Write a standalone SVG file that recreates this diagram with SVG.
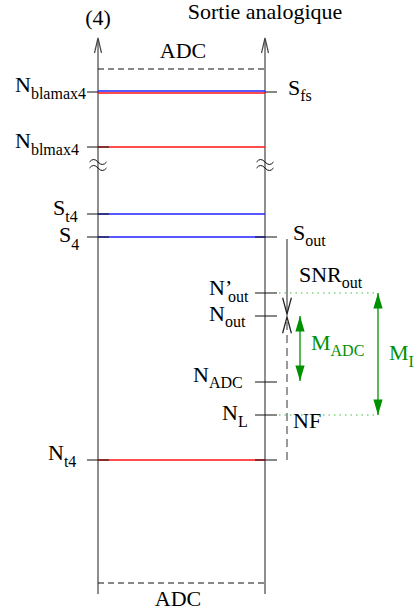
<svg xmlns="http://www.w3.org/2000/svg" width="415" height="614" viewBox="0 0 415 614">
<defs>
<marker id="open" markerUnits="userSpaceOnUse" markerWidth="20" markerHeight="20" refX="0" refY="0" orient="auto" viewBox="-15 -6 16 12" overflow="visible">
<path d="M-13,-3.5 L0,0 L-13,3.5" fill="none" stroke="#222" stroke-width="1"/>
</marker>
<marker id="garrow" markerUnits="userSpaceOnUse" markerWidth="20" markerHeight="20" refX="0" refY="0" orient="auto-start-reverse" viewBox="-12 -5 13 10" overflow="visible">
<path d="M-10,-3 L0,0 L-10,3 Z" fill="#009000" stroke="none"/>
</marker>
</defs>
<style>
text{font-family:"Liberation Serif","Times New Roman",serif;font-size:22px;fill:#000}
.sub{font-size:16px}
.g{fill:#009000}
.axis{stroke:#444;stroke-width:1.2;fill:none}
.tick{stroke:#111;stroke-width:1}
.dash{stroke:#111;stroke-width:1;stroke-dasharray:6,4}
.red{stroke:#ff1010;stroke-width:1.3}
.blue{stroke:#2020ff;stroke-width:1.3}
.dot{stroke:#44bb44;stroke-width:1.2;stroke-dasharray:1.5,4}
.brk{stroke:#111;stroke-width:1;fill:none}
</style>
<rect width="415" height="614" fill="#fff"/>

<g id="axis-left">
<line class="axis" x1="98" y1="39" x2="98" y2="594"/>
<path class="axis" d="M94.5,53 L98,38 L101.5,53"/>
<text x="98" y="25" text-anchor="middle">(4)</text>
</g>
<g id="axis-right">
<line class="axis" x1="265" y1="39" x2="265" y2="594"/>
<path class="axis" d="M261.5,53 L265,38 L268.5,53"/>
<text x="265" y="19" text-anchor="middle">Sortie analogique</text>
</g>
<g id="breaks">
<path class="brk" d="M89.5,162 q4,-5 8.5,0 t8.5,0 M89.5,168 q4,-5 8.5,0 t8.5,0"/>
<path class="brk" d="M256.5,162 q4,-5 8.5,0 t8.5,0 M256.5,168 q4,-5 8.5,0 t8.5,0"/>
</g>
<g id="adc-top">
<line class="dash" x1="98" y1="69" x2="265" y2="69"/>
<text x="183" y="58" text-anchor="middle">ADC</text>
</g>
<g id="adc-bottom">
<line class="dash" x1="98" y1="583" x2="265" y2="583"/>
<text x="178" y="606" text-anchor="middle">ADC</text>
</g>
<g id="n-blamax4">
<line class="blue" x1="98" y1="91" x2="265" y2="91"/>
<line class="red" x1="98" y1="93" x2="265" y2="93"/>
<line class="tick" x1="87" y1="92" x2="98" y2="92"/>
<line class="tick" x1="265" y1="92" x2="277" y2="92"/>
<text x="15" y="92">N<tspan class="sub" dy="7">blamax4</tspan></text>
<text x="288" y="95">S<tspan class="sub" dy="6">fs</tspan></text>
</g>
<g id="n-blmax4">
<line class="red" x1="98" y1="147" x2="265" y2="147"/>
<line class="tick" x1="87" y1="147" x2="109" y2="147"/>
<text x="15" y="148">N<tspan class="sub" dy="7">blmax4</tspan></text>
</g>
<g id="s-t4">
<line class="blue" x1="98" y1="214" x2="265" y2="214"/>
<line class="tick" x1="87" y1="214" x2="109" y2="214"/>
<text x="53" y="215">S<tspan class="sub" dy="7">t4</tspan></text>
</g>
<g id="s-4">
<line class="blue" x1="98" y1="237" x2="265" y2="237"/>
<line class="tick" x1="87" y1="237" x2="109" y2="237"/>
<line class="tick" x1="255" y1="237" x2="277" y2="237"/>
<text x="59" y="242">S<tspan class="sub" dy="8">4</tspan></text>
<text x="293" y="240">S<tspan class="sub" dy="6">out</tspan></text>
</g>
<g id="n-out-prime">
<line class="tick" x1="255" y1="293" x2="277" y2="293"/>
<line class="dot" x1="279" y1="293" x2="378" y2="293"/>
<text x="209" y="295">N’<tspan class="sub" x="228" dy="7">out</tspan></text>
<text x="299" y="282">SNR<tspan class="sub" dy="6">out</tspan></text>
</g>
<g id="n-out">
<line class="tick" x1="255" y1="316" x2="277" y2="316"/>
<text x="209" y="321">N<tspan class="sub" dy="6">out</tspan></text>
</g>
<g id="n-adc">
<line class="tick" x1="255" y1="382" x2="277" y2="382"/>
<text x="193" y="382">N<tspan class="sub" dy="6">ADC</tspan></text>
</g>
<g id="n-l">
<line class="tick" x1="255" y1="415" x2="277" y2="415"/>
<line class="dot" x1="279" y1="415" x2="378" y2="415"/>
<text x="222" y="420">N<tspan class="sub" dy="7">L</tspan></text>
<text x="293" y="428">NF</text>
</g>
<g id="n-t4">
<line class="red" x1="98" y1="460" x2="265" y2="460"/>
<line class="tick" x1="87" y1="460" x2="109" y2="460"/>
<line class="tick" x1="255" y1="460" x2="277" y2="460"/>
<text x="48" y="460">N<tspan class="sub" dy="7">t4</tspan></text>
</g>
<g id="margins">
<text class="g" x="311" y="350">M<tspan class="sub g" dy="6">ADC</tspan></text>
<text class="g" x="389" y="360">M<tspan class="sub g" dy="7">I</tspan></text>
</g>
<g id="connectors">
<line x1="287" y1="239" x2="287" y2="314" stroke="#222" stroke-width="1" marker-end="url(#open)"/>
<line x1="287" y1="460" x2="287" y2="317" stroke="#555" stroke-width="1.2" stroke-dasharray="8,5" marker-end="url(#open)"/>
<line x1="300" y1="316" x2="300" y2="381" stroke="#009000" stroke-width="1.3" marker-start="url(#garrow)" marker-end="url(#garrow)"/>
<line x1="378" y1="293" x2="378" y2="415" stroke="#009000" stroke-width="1.3" marker-start="url(#garrow)" marker-end="url(#garrow)"/>
</g>
</svg>
